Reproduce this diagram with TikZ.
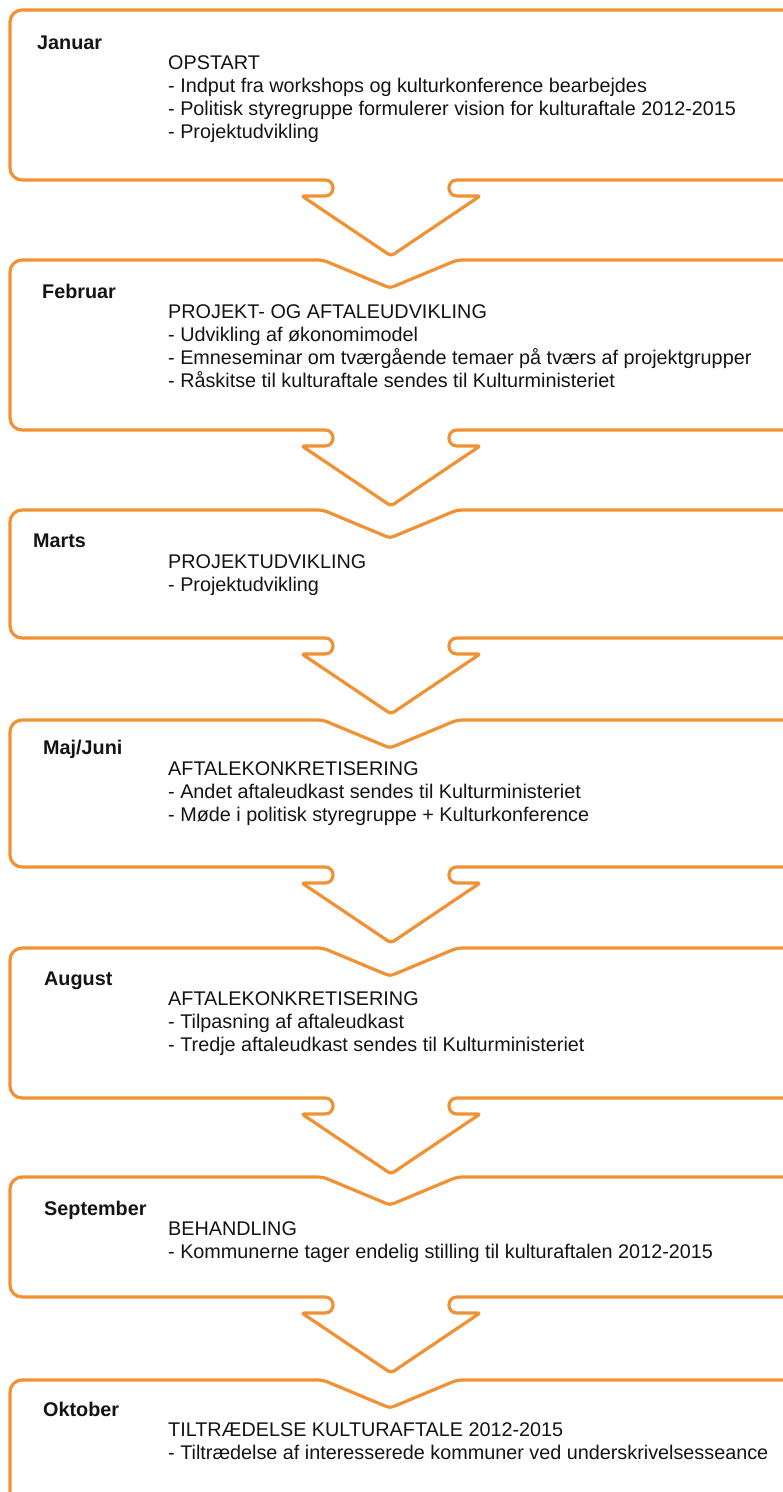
\documentclass[tikz,border=0pt]{standalone}
\usepackage{fontspec}
\setmainfont{Liberation Sans}
\definecolor{orng}{RGB}{240,146,52}
\definecolor{txt}{RGB}{20,20,20}
\tikzset{
  outline/.style={draw=orng, line width=3.2pt, line join=round},
  month/.style={anchor=base west, inner sep=0pt, text=txt, font=\fontsize{19.8}{23}\selectfont\bfseries},
  body/.style={anchor=base west, inner sep=0pt, text=txt, font=\fontsize{19.8}{23}\selectfont},
}
% top edge with notch, then left side down, from (800,#1)
\newcommand\notchtop[1]{(800,#1) -- (467,#1) .. controls (457,#1) .. (447.8,#1+3.9)
   -- (397.4,#1+24.9) .. controls (390,#1+28) .. (382.6,#1+24.9)
   -- (332.2,#1+3.9) .. controls (323,#1) .. (313,#1)
   -- (22,#1) .. controls (15.4,#1) and (10,#1+5.4) .. (10,#1+12)}
\newcommand\chevbottom[1]{-- (10,#1-12) .. controls (10,#1-5.4) and (15.4,#1) .. (22,#1)
   -- (325,#1) .. controls (335.7,#1) and (335.7,#1+16) .. (325,#1+16)
   -- (307,#1+16) .. controls (302,#1+16) .. (306.1,#1+18.8)
   -- (384.4,#1+71.5) .. controls (391,#1+76) .. (397.6,#1+71.5)
   -- (475.9,#1+18.8) .. controls (480,#1+16) .. (475,#1+16)
   -- (457,#1+16) .. controls (446.3,#1+16) and (446.3,#1) .. (457,#1) -- (800,#1)}
\newcommand\midstage[2]{\draw[outline] \notchtop{#1} \chevbottom{#2};}
\begin{document}
\begin{tikzpicture}[x=1pt, y=-1pt]
\useasboundingbox (0,0) rectangle (783,1492);
\fill[white] (0,0) rectangle (783,1492);
\clip (0,0) rectangle (783,1492);
% first stage
\draw[outline] (800,10) -- (22,10) .. controls (15.4,10) and (10,15.4) .. (10,22) \chevbottom{180};
\midstage{260}{430}
\midstage{510}{638}
\midstage{720}{867}
\midstage{948}{1098}
\midstage{1177}{1297}
% last stage
\draw[outline] \notchtop{1380} -- (10,1520);

% Januar
\node[month] (m1) at (37,49) {Januar};
\node[body] (t1a) at (168,69) {OPSTART};
\node[body] (t1b) at (168,92.3) {- Indput fra workshops og kulturkonference bearbejdes};
\node[body] (t1c) at (168,115.6) {- Politisk styregruppe formulerer vision for kulturaftale 2012-2015};
\node[body] (t1d) at (168,138.9) {- Projektudvikling};
% Februar
\node[month] (m2) at (42,298) {Februar};
\node[body] (t2a) at (168,318) {PROJEKT- OG AFTALEUDVIKLING};
\node[body] (t2b) at (168,341.3) {- Udvikling af økonomimodel};
\node[body] (t2c) at (168,364.6) {- Emneseminar om tværgående temaer på tværs af projektgrupper};
\node[body] (t2d) at (168,387.9) {- Råskitse til kulturaftale sendes til Kulturministeriet};
% Marts
\node[month] (m3) at (33,547) {Marts};
\node[body] (t3a) at (168,568) {PROJEKTUDVIKLING};
\node[body] (t3b) at (168,591.3) {- Projektudvikling};
% Maj/Juni
\node[month] (m4) at (43,754) {Maj/Juni};
\node[body] (t4a) at (168,775) {AFTALEKONKRETISERING};
\node[body] (t4b) at (168,798.3) {- Andet aftaleudkast sendes til Kulturministeriet};
\node[body] (t4c) at (168,821.6) {- Møde i politisk styregruppe + Kulturkonference};
% August
\node[month] (m5) at (44,985) {August};
\node[body] (t5a) at (168,1005) {AFTALEKONKRETISERING};
\node[body] (t5b) at (168,1028.3) {- Tilpasning af aftaleudkast};
\node[body] (t5c) at (168,1051.6) {- Tredje aftaleudkast sendes til Kulturministeriet};
% September
\node[month] (m6) at (44,1215) {September};
\node[body] (t6a) at (168,1235) {BEHANDLING};
\node[body] (t6b) at (168,1258.3) {- Kommunerne tager endelig stilling til kulturaftalen 2012-2015};
% Oktober
\node[month] (m7) at (43,1416) {Oktober};
\node[body] (t7a) at (168,1436) {TILTRÆDELSE KULTURAFTALE 2012-2015};
\node[body] (t7b) at (168,1459.3) {- Tiltrædelse af interesserede kommuner ved underskrivelsesseance};
\end{tikzpicture}
\end{document}
